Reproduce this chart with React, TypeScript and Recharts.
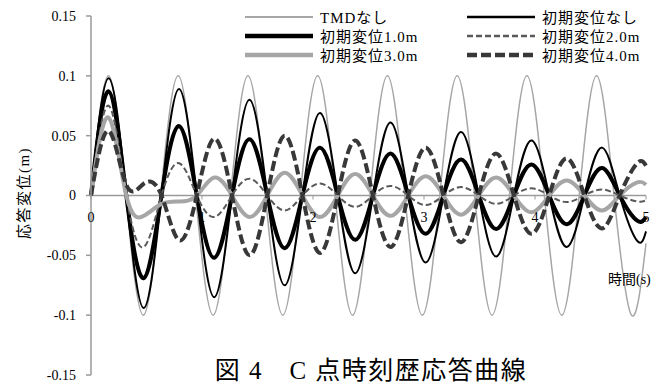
import React from 'react';
import {
    LineChart,
    Line,
    XAxis,
    YAxis,
    ReferenceLine,
    ReferenceDot,
    Legend
} from 'recharts';

// TMDなし: own time grid (slightly shorter period)
const tmdTime = [0, 0.157, 0.314, 0.471, 0.628, 0.785, 0.942, 1.1, 1.257, 1.414, 1.571, 1.728, 1.885, 2.042, 2.199, 2.356,
    2.513, 2.67, 2.827, 2.985, 3.142, 3.299, 3.456, 3.613, 3.77, 3.927, 4.084, 4.241, 4.398, 4.555, 4.712, 4.869, 5.0];
const tmdNone = [0, 0.1, 0, -0.1, 0, 0.1, 0, -0.1, 0, 0.1, 0, -0.1, 0, 0.1, 0, -0.1,
    0, 0.1, 0, -0.1, 0, 0.1, 0, -0.1, 0, 0.1, 0, -0.1, 0, 0.1, 0, -0.1, -0.04];

// TMD付き: shared time grid (peaks / zero crossings)
const time = [0, 0.159, 0.318, 0.476, 0.635, 0.794, 0.953, 1.111, 1.27, 1.429, 1.588, 1.746, 1.905, 2.064, 2.223, 2.381,
    2.54, 2.699, 2.858, 3.016, 3.175, 3.334, 3.493, 3.651, 3.81, 3.969, 4.128, 4.286, 4.445, 4.604, 4.763, 4.921, 5.0];
const dispNone = [0, 0.098, 0, -0.094, 0, 0.089, 0, -0.085, 0, 0.08, 0, -0.075, 0, 0.069, 0, -0.065,
    0, 0.061, 0, -0.056, 0, 0.053, 0, -0.051, 0, 0.046, 0, -0.043, 0, 0.04, 0, -0.038, -0.03];
const disp1 = [0, 0.087, 0, -0.069, 0, 0.058, 0, -0.052, 0, 0.047, 0, -0.044, 0, 0.04, 0, -0.037,
    0, 0.035, 0, -0.032, 0, 0.03, 0, -0.028, 0, 0.026, 0, -0.024, 0, 0.023, 0, -0.021, -0.018];
const disp2 = [0, 0.075, 0, -0.043, 0, 0.027, 0, -0.018, 0, 0.014, 0, -0.0125, 0, 0.01, 0, -0.0095,
    0, 0.008, 0, -0.008, 0, 0.007, 0, -0.007, 0, 0.006, 0, -0.0055, 0, 0.005, 0, -0.005, -0.004];
const disp3 = [0, 0.065, 0, -0.017, -0.007, -0.005, 0, 0.015, 0, -0.018, 0, 0.019, 0, -0.018, 0, 0.018,
    0, -0.017, 0, 0.016, 0, -0.016, 0, 0.015, 0, -0.014, 0, 0.0125, 0, -0.0125, 0, 0.011, 0.009];
const disp4 = [0, 0.054, 0.009, 0.01, 0, -0.0375, 0, 0.0475, 0, -0.05, 0, 0.05, 0, -0.048, 0, 0.046,
    0, -0.043, 0, 0.04, 0, -0.039, 0, 0.035, 0, -0.032, 0, 0.031, 0, -0.0275, 0, 0.027, 0.025];

const xTicks = [0, 1, 2, 3, 4, 5];
const yTicks = [-0.15, -0.1, -0.05, 0, 0.05, 0.1, 0.15];

const FONT = "'Liberation Serif', 'Noto Sans CJK JP', serif";
const AXIS = '#9a9a9a';

const toPoints = (ts: number[], vs: number[]) => ts.map((t, i) => ({ t, v: vs[i] }));

const series = [
    { name: 'TMDなし', data: toPoints(tmdTime, tmdNone), color: '#a6a6a6', width: 1.5 },
    { name: '初期変位なし', data: toPoints(time, dispNone), color: '#000000', width: 2 },
    { name: '初期変位1.0m', data: toPoints(time, disp1), color: '#000000', width: 4 },
    { name: '初期変位2.0m', data: toPoints(time, disp2), color: '#595959', width: 2, dash: '6 3' },
    { name: '初期変位3.0m', data: toPoints(time, disp3), color: '#a6a6a6', width: 4 },
    { name: '初期変位4.0m', data: toPoints(time, disp4), color: '#383838', width: 4, dash: '10 4' },
];

const renderLegend = () => (
    <div style={{ display: 'grid', gridTemplateColumns: '222px 200px', fontFamily: FONT }}>
        {series.map(s => (
            <div key={s.name} style={{ display: 'flex', alignItems: 'center', height: 19 }}>
                <svg width={68} height={10}>
                    <line x1={0} x2={68} y1={5} y2={5} stroke={s.color}
                          strokeWidth={s.width + 0.5} strokeDasharray={s.dash} />
                </svg>
                <span style={{ marginLeft: 7, fontSize: 15, letterSpacing: 1, color: '#000' }}>{s.name}</span>
            </div>
        ))}
    </div>
);

const App: React.FC = () => {
    return (
        <div style={{ position: 'absolute', left: 0, top: 0, width: 672, height: 385, background: '#fff', overflow: 'hidden' }}>
            <LineChart width={672} height={385} margin={{ top: 16, right: 26, bottom: 10, left: 0 }}>
                <XAxis dataKey="t" type="number" domain={[0, 5]} ticks={xTicks} hide />
                <YAxis
                    type="number"
                    domain={[-0.15, 0.15]}
                    ticks={yTicks}
                    interval={0}
                    width={91}
                    axisLine={{ stroke: AXIS, strokeWidth: 1.5 }}
                    tickLine={{ stroke: AXIS, strokeWidth: 1.5 }}
                    tickSize={5}
                    tickMargin={10}
                    tick={{ fill: '#000', fontSize: 14, fontFamily: FONT }}
                />
                <ReferenceLine y={0} stroke={AXIS} strokeWidth={1.5} />
                {xTicks.map(v => (
                    <ReferenceDot
                        key={v}
                        x={v}
                        y={0}
                        ifOverflow="visible"
                        shape={(p: any) => (
                            <g>
                                <line x1={p.cx} x2={p.cx} y1={p.cy} y2={p.cy + 4} stroke={AXIS} strokeWidth={1} />
                                <text x={p.cx} y={p.cy + 26} textAnchor="middle" fontSize={14}
                                      fontFamily={FONT} fill="#000">{v}</text>
                            </g>
                        )}
                    />
                ))}
                <Legend
                    layout="vertical"
                    align="center"
                    verticalAlign="middle"
                    content={renderLegend}
                    wrapperStyle={{ top: 7, left: 245, width: 430 }}
                />
                {series.map(s => (
                    <Line
                        key={s.name}
                        data={s.data}
                        dataKey="v"
                        name={s.name}
                        type="natural"
                        stroke={s.color}
                        strokeWidth={s.width}
                        strokeDasharray={s.dash}
                        dot={false}
                        activeDot={false}
                        isAnimationActive={false}
                    />
                ))}
            </LineChart>
            <div style={{
                position: 'absolute', left: 22, top: 193, transform: 'translate(-50%, -50%) rotate(-90deg)',
                fontFamily: FONT, fontSize: 15, letterSpacing: 1.5, whiteSpace: 'nowrap'
            }}>応答変位(m)</div>
            <div style={{
                position: 'absolute', left: 608, top: 268, fontFamily: FONT, fontSize: 14, whiteSpace: 'nowrap'
            }}>時間(s)</div>
            <div style={{
                position: 'absolute', left: 371, top: 371, transform: 'translate(-50%, -50%)',
                fontFamily: FONT, fontSize: 25, lineHeight: '26px', letterSpacing: 1.5, whiteSpace: 'pre'
            }}>図 4　C 点時刻歴応答曲線</div>
        </div>
    );
};

export default App;
